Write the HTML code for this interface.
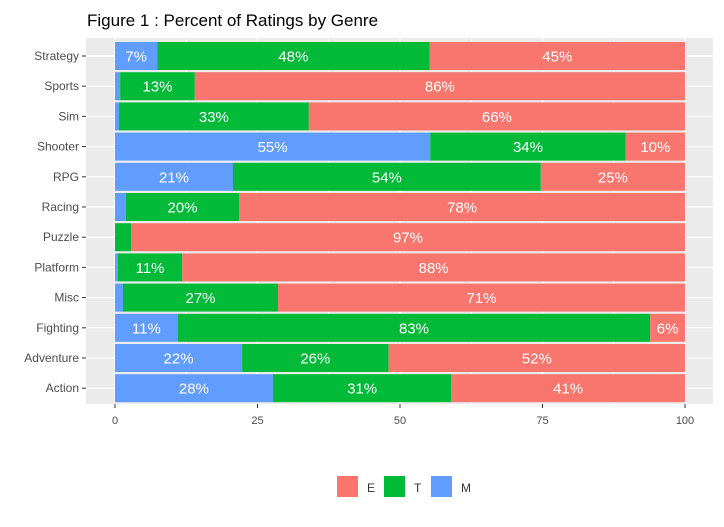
<!DOCTYPE html>
<html><head><meta charset="utf-8"><style>
body{margin:0;background:#fff;font-family:"Liberation Sans",Arial,sans-serif}
</style></head><body>
<svg id="c" width="724" height="522" xmlns="http://www.w3.org/2000/svg" font-family="Liberation Sans, Arial, sans-serif">
<text x="87" y="26" font-size="17" fill="#000">Figure 1 : Percent of Ratings by Genre</text>
<rect x="86" y="38" width="627" height="366" fill="#ebebeb"/>
<g id="grid"></g><g id="bars"></g><g id="axes"></g>
<g>
<rect x="337" y="476" width="21" height="21" fill="#F8766D"/>
<text x="367" y="492" font-size="12" fill="#333">E</text>
<rect x="384" y="476" width="21" height="21" fill="#00BA38"/>
<text x="414" y="492" font-size="12" fill="#333">T</text>
<rect x="431" y="476" width="21" height="21" fill="#619CFF"/>
<text x="461" y="492" font-size="12" fill="#333">M</text>
</g>
</svg>
<script>
const genres=["Strategy","Sports","Sim","Shooter","RPG","Racing","Puzzle","Platform","Misc","Fighting","Adventure","Action"];
const mVals=[7.4,0.9,0.7,55.3,20.7,1.9,0,0.5,1.4,11,22.3,27.7];
const tVals=[47.8,13.1,33.3,34.3,54,19.9,2.8,11.3,27.2,82.9,25.7,31.3];
const xTicks=[0,25,50,75,100];
const NS="http://www.w3.org/2000/svg";
const x=v=>115+v*5.7;
const rowY=i=>56+i*30.2;
const bh=28;
function mk(tag,attrs,parent){const e=document.createElementNS(NS,tag);for(const k in attrs)e.setAttribute(k,attrs[k]);parent.appendChild(e);return e;}
const grid=document.getElementById('grid'),bars=document.getElementById('bars'),axes=document.getElementById('axes');
xTicks.forEach((t,j)=>{
 if(j<xTicks.length-1){const g=mk('line',{x1:x(t+12.5),x2:x(t+12.5),y1:38,y2:404,stroke:'#fff','stroke-width':0.6},grid);
 
 }
 const l=mk('line',{x1:x(t),x2:x(t),y1:38,y2:404,stroke:'#fff','stroke-width':1.2},grid);
 
 
 const tk=mk('line',{x1:x(t),x2:x(t),y1:404,y2:408,stroke:'#333'},axes);
 
 
 const tx=mk('text',{x:x(t),y:424,'text-anchor':'middle','font-size':11,fill:'#4d4d4d'},axes);
 tx.textContent=t;
 
 
});
genres.forEach((g,i)=>{
 const y=rowY(i);
 const gl=mk('line',{x1:86,x2:713,y1:y,y2:y,stroke:'#fff','stroke-width':1.2},grid);
 
 
 const m=mVals[i],t=tVals[i],e=100-m-t;
 const segs=[[0,m,'#619CFF','m'],[m,t,'#00BA38','t'],[m+t,e,'#F8766D','e']];
 segs.forEach(s=>{
  if(s[1]<=0)return;
  const r=mk('rect',{x:x(s[0]),y:y-bh/2,width:x(s[0]+s[1])-x(s[0]),height:bh,fill:s[2]},bars);
  
  
  if(s[1]>=5){
   const lb=mk('text',{x:x(s[0]+s[1]/2),y:y+5.5,'text-anchor':'middle','font-size':15,fill:'#fff'},bars);
   lb.textContent=Math.round(s[1])+'%';
   
   
  }
 });
 const tk=mk('line',{x1:82,x2:86,y1:y,y2:y,stroke:'#333'},axes);
 
 
 const tx=mk('text',{x:79,y:y+4,'text-anchor':'end','font-size':12,fill:'#4d4d4d'},axes);
 tx.textContent=g;
 
 
});
</script>
</body></html>
